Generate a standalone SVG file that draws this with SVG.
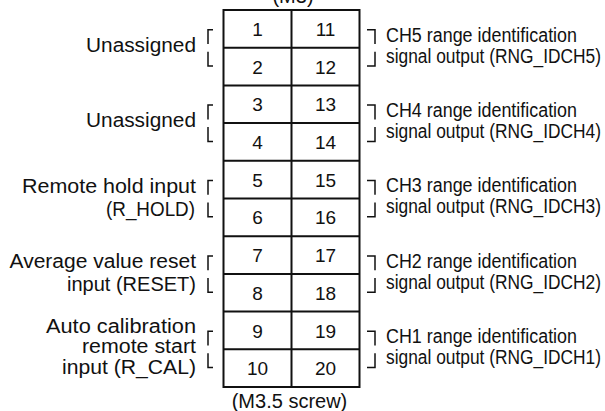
<svg xmlns="http://www.w3.org/2000/svg" width="605" height="411" viewBox="0 0 605 411">
<style>
text{font-family:"Liberation Sans",Arial,sans-serif;fill:#111;font-size:20px}
.n{font-size:19px;text-anchor:middle}
.l{text-anchor:end}
.grid{fill:none;stroke:#111;stroke-width:2}
.br{fill:none;stroke:#111;stroke-width:1.5}
</style>
<rect width="605" height="411" fill="#fff"/>
<text x="293" y="3" text-anchor="middle">(M3)</text>
<g id="terminal-block">
<rect class="grid" x="223.5" y="10" width="136" height="377"/>
<path class="grid" d="M291.5,10V387M223.5,47.7H359.5M223.5,85.4H359.5M223.5,123.1H359.5M223.5,160.8H359.5M223.5,198.5H359.5M223.5,236.2H359.5M223.5,273.9H359.5M223.5,311.6H359.5M223.5,349.3H359.5"/>
</g>
<g id="numbers">
<text class="n" x="257.5" y="35.9">1</text><text class="n" x="325.5" y="35.9">11</text>
<text class="n" x="257.5" y="73.6">2</text><text class="n" x="325.5" y="73.6">12</text>
<text class="n" x="257.5" y="111.3">3</text><text class="n" x="325.5" y="111.3">13</text>
<text class="n" x="257.5" y="149">4</text><text class="n" x="325.5" y="149">14</text>
<text class="n" x="257.5" y="186.7">5</text><text class="n" x="325.5" y="186.7">15</text>
<text class="n" x="257.5" y="224.4">6</text><text class="n" x="325.5" y="224.4">16</text>
<text class="n" x="257.5" y="262.1">7</text><text class="n" x="325.5" y="262.1">17</text>
<text class="n" x="257.5" y="299.8">8</text><text class="n" x="325.5" y="299.8">18</text>
<text class="n" x="257.5" y="337.5">9</text><text class="n" x="325.5" y="337.5">19</text>
<text class="n" x="257.5" y="375.2">10</text><text class="n" x="325.5" y="375.2">20</text>
</g>
<g id="connectors">
<path class="br" d="M213,29.7H208V44M208,51.7V66H213M367,29.7H375V44M375,51.7V66H367"/>
<path class="br" d="M213,105.1H208V119.4M208,127.1V141.4H213M367,105.1H375V119.4M375,127.1V141.4H367"/>
<path class="br" d="M213,180.5H208V194.8M208,202.5V216.8H213M367,180.5H375V194.8M375,202.5V216.8H367"/>
<path class="br" d="M213,255.9H208V270.2M208,277.9V292.2H213M367,255.9H375V270.2M375,277.9V292.2H367"/>
<path class="br" d="M213,331.3H208V345.6M208,353.3V367.6H213M367,331.3H375V345.6M375,353.3V367.6H367"/>
</g>
<g id="left-1-2"><text class="l" x="196" y="51.7" textLength="110" lengthAdjust="spacingAndGlyphs">Unassigned</text></g>
<g id="left-3-4"><text class="l" x="196" y="126.7" textLength="110" lengthAdjust="spacingAndGlyphs">Unassigned</text></g>
<g id="left-5-6">
<text class="l" x="196" y="193.3" textLength="174" lengthAdjust="spacingAndGlyphs">Remote hold input</text>
<text class="l" x="195" y="215.5" textLength="89" lengthAdjust="spacingAndGlyphs">(R_HOLD)</text>
</g>
<g id="left-7-8">
<text class="l" x="196" y="267.8" textLength="186.5" lengthAdjust="spacingAndGlyphs">Average value reset</text>
<text class="l" x="196" y="290.8" textLength="129" lengthAdjust="spacingAndGlyphs">input (RESET)</text>
</g>
<g id="left-9-10">
<text class="l" x="196" y="333.3" textLength="150" lengthAdjust="spacingAndGlyphs">Auto calibration</text>
<text class="l" x="196" y="353.3" textLength="114" lengthAdjust="spacingAndGlyphs">remote start</text>
<text class="l" x="196" y="373.8" textLength="134" lengthAdjust="spacingAndGlyphs">input  (R_CAL)</text>
</g>
<g id="right-11-12">
<text x="386" y="41.5" textLength="191" lengthAdjust="spacingAndGlyphs">CH5 range identification</text>
<text x="386" y="62.5" textLength="215" lengthAdjust="spacingAndGlyphs">signal output (RNG_IDCH5)</text>
</g>
<g id="right-13-14">
<text x="386" y="116.9" textLength="191" lengthAdjust="spacingAndGlyphs">CH4 range identification</text>
<text x="386" y="137.9" textLength="215" lengthAdjust="spacingAndGlyphs">signal output (RNG_IDCH4)</text>
</g>
<g id="right-15-16">
<text x="386" y="192.3" textLength="191" lengthAdjust="spacingAndGlyphs">CH3 range identification</text>
<text x="386" y="213.3" textLength="215" lengthAdjust="spacingAndGlyphs">signal output (RNG_IDCH3)</text>
</g>
<g id="right-17-18">
<text x="386" y="267.7" textLength="191" lengthAdjust="spacingAndGlyphs">CH2 range identification</text>
<text x="386" y="288.7" textLength="215" lengthAdjust="spacingAndGlyphs">signal output (RNG_IDCH2)</text>
</g>
<g id="right-19-20">
<text x="386" y="343.1" textLength="191" lengthAdjust="spacingAndGlyphs">CH1 range identification</text>
<text x="386" y="364.1" textLength="215" lengthAdjust="spacingAndGlyphs">signal output (RNG_IDCH1)</text>
</g>
<text x="289.5" y="407.5" text-anchor="middle">(M3.5 screw)</text>
</svg>
